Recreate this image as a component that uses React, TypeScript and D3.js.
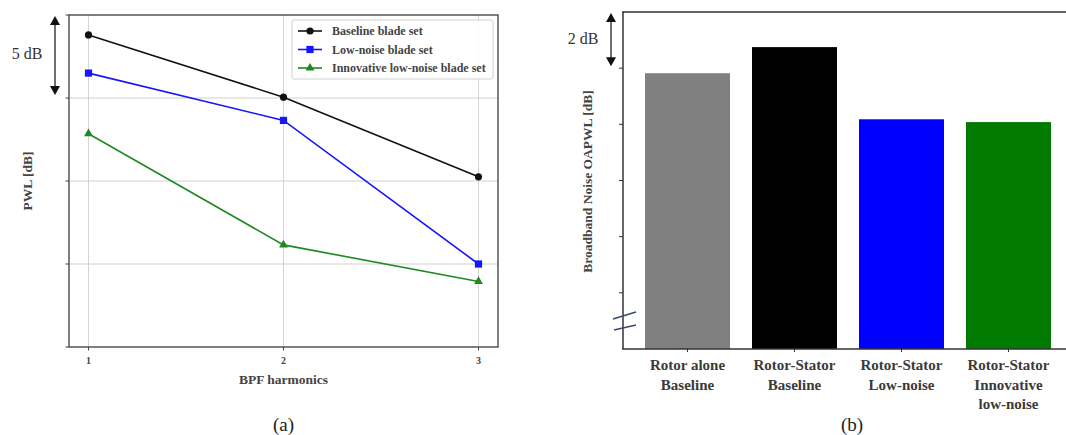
import React from "react";
import * as d3 from "d3";

// ---- Data (a) ----
const harmonics = [1, 2, 3];
const baseline = [18.8, 15.05, 10.25];
const lowNoise = [16.5, 13.65, 5.0];
const innovative = [12.85, 6.15, 3.95];
const yTicksA = [0, 5, 10, 15, 20];
const seriesNames = ["Baseline blade set", "Low-noise blade set", "Innovative low-noise blade set"];

// ---- Data (b) ----
const barLabels = [
  ["Rotor alone", "Baseline"],
  ["Rotor-Stator", "Baseline"],
  ["Rotor-Stator", "Low-noise"],
  ["Rotor-Stator", "Innovative", "low-noise"],
];
const barValues = [9.82, 10.75, 8.18, 8.08];
const barColors = ["#808080", "#000000", "#0000ff", "#007a00"];
const yTicksB = [0, 2, 4, 6, 8, 10, 12];

const serif = "'Liberation Serif', 'Times New Roman', serif";
const textCol = "#3a3a3a";

function Arrow({ x, y1, y2 }: { x: number; y1: number; y2: number }) {
  const h = 9, w = 5;
  return (
    <g>
      <line x1={x} x2={x} y1={y1 + h - 1} y2={y2 - h + 1} stroke="#222" strokeWidth={1.3} />
      <path d={`M${x},${y1} L${x - w},${y1 + h} L${x + w},${y1 + h} Z`} fill="#111" />
      <path d={`M${x},${y2} L${x - w},${y2 - h} L${x + w},${y2 - h} Z`} fill="#111" />
    </g>
  );
}

function Marker({ kind, x, y, color }: { kind: number; x: number; y: number; color: string }) {
  if (kind === 0) return <circle cx={x} cy={y} r={3.6} fill={color} />;
  if (kind === 1) return <rect x={x - 3.6} y={y - 3.6} width={7.2} height={7.2} fill={color} />;
  const s = d3.symbol().type(d3.symbolTriangle).size(34)();
  return <path d={s || ""} transform={`translate(${x},${y})`} fill={color} />;
}

export default function App() {
  // Panel (a)
  const xA = d3.scaleLinear().domain([0.9, 3.1]).range([69, 498]);
  const yA = d3.scaleLinear().domain([0, 20]).range([347, 15]);
  const series = [baseline, lowNoise, innovative];
  const colors = ["#111111", "#1515ff", "#1f8a1f"];
  const line = d3
    .line<number>()
    .x((_, i) => xA(harmonics[i]))
    .y((d) => yA(d));

  // Panel (b)
  const yB = d3.scaleLinear().domain([0, 12]).range([349, 12]);
  const xB = d3
    .scaleBand<number>()
    .domain(barValues.map((_, i) => i))
    .range([623, 1073])
    .paddingInner(0.2056)
    .paddingOuter(0.2056);

  return (
    <svg
      width={1066}
      height={435}
      style={{ position: "absolute", left: 0, top: 0, background: "#fff" }}
      fontFamily={serif}
    >
      <rect x={0} y={0} width={1066} height={435} fill="#fff" />
      {/* ===== Panel (a) ===== */}
      {/* grid */}
      {harmonics.map((h) => (
        <line key={"vg" + h} x1={xA(h)} x2={xA(h)} y1={yA(20)} y2={yA(0)} stroke="#d4d4d4" strokeWidth={1} />
      ))}
      {yTicksA.slice(1, 4).map((t) => (
        <line key={"hg" + t} x1={xA(0.9)} x2={xA(3.1)} y1={yA(t)} y2={yA(t)} stroke="#d0d0d0" strokeWidth={1} />
      ))}
      {/* ticks */}
      {yTicksA.map((t) => (
        <line key={"yt" + t} x1={xA(0.9) - 3.5} x2={xA(0.9)} y1={yA(t)} y2={yA(t)} stroke="#444" strokeWidth={1} />
      ))}
      {harmonics.map((h) => (
        <g key={"xt" + h}>
          <line x1={xA(h)} x2={xA(h)} y1={yA(0)} y2={yA(0) + 3.5} stroke="#444" strokeWidth={1} />
          <text x={xA(h)} y={yA(0) + 17} textAnchor="middle" fontSize={10} fill="#444" fontWeight="bold">
            {h}
          </text>
        </g>
      ))}
      {/* frame */}
      <rect
        x={xA(0.9)}
        y={yA(20)}
        width={xA(3.1) - xA(0.9)}
        height={yA(0) - yA(20)}
        fill="none"
        stroke="#4a4a4a"
        strokeWidth={1.4}
      />
      {/* lines */}
      {series.map((s, k) => (
        <g key={"s" + k}>
          <path d={line(s) || ""} fill="none" stroke={colors[k]} strokeWidth={1.6} />
          {s.map((v, i) => (
            <Marker key={i} kind={k} x={xA(harmonics[i])} y={yA(v)} color={colors[k]} />
          ))}
        </g>
      ))}
      {/* legend */}
      <rect x={292} y={20} width={201} height={59} rx={2} fill="#fff" fillOpacity={0.85} stroke="#d0d0d0" strokeWidth={1} />
      {seriesNames.map((n, k) => {
        const ly = 31 + k * 18.5;
        return (
          <g key={"lg" + k}>
            <line x1={298} x2={322} y1={ly} y2={ly} stroke={colors[k]} strokeWidth={1.6} />
            <Marker kind={k} x={310} y={ly} color={colors[k]} />
            <text x={332} y={ly + 4} fontSize={12} fontWeight="bold" fill="#444">
              {n}
            </text>
          </g>
        );
      })}
      {/* labels */}
      <text
        transform={`translate(32,${(yA(0) + yA(20)) / 2}) rotate(-90)`}
        textAnchor="middle"
        fontSize={13.5}
        fontWeight="bold"
        fill="#444"
      >
        PWL [dB]
      </text>
      <text x={xA(2)} y={384} textAnchor="middle" fontSize={13.5} fontWeight="bold" fill="#444">
        BPF harmonics
      </text>
      <text x={xA(2)} y={431} textAnchor="middle" fontSize={19} fill="#222">
        (a)
      </text>
      <Arrow x={55} y1={yA(20) + 1} y2={yA(15) - 3} />
      <text x={27} y={59} textAnchor="middle" fontSize={16} fill="#333">
        5 dB
      </text>

      {/* ===== Panel (b) ===== */}
      {barValues.map((v, i) => (
        <rect key={"b" + i} x={xB(i)} y={yB(v)} width={xB.bandwidth()} height={yB(0) - yB(v)} fill={barColors[i]} />
      ))}
      {/* spines */}
      <line x1={623} x2={623} y1={yB(12)} y2={yB(0)} stroke="#333" strokeWidth={1.5} />
      <line x1={622} x2={1066} y1={yB(0)} y2={yB(0)} stroke="#333" strokeWidth={1.5} />
      <line x1={622} x2={1066} y1={yB(12)} y2={yB(12)} stroke="#333" strokeWidth={1.5} />
      {yTicksB.slice(1, 6).map((t) => (
        <line key={"byt" + t} x1={619} x2={623} y1={yB(t)} y2={yB(t)} stroke="#333" strokeWidth={1} />
      ))}
      {barValues.map((_, i) => (
        <line
          key={"bxt" + i}
          x1={xB(i)! + xB.bandwidth() / 2}
          x2={xB(i)! + xB.bandwidth() / 2}
          y1={yB(0)}
          y2={yB(0) + 3}
          stroke="#333"
          strokeWidth={1}
        />
      ))}
      {/* axis break */}
      <line x1={613} x2={636} y1={319} y2={312} stroke="#3a4a6a" strokeWidth={1.6} />
      <line x1={614} x2={636} y1={330} y2={325} stroke="#3a4a6a" strokeWidth={1.6} />
      {/* category labels */}
      {barLabels.map((lines, i) => (
        <text
          key={"bl" + i}
          x={xB(i)! + xB.bandwidth() / 2}
          textAnchor="middle"
          fontSize={15}
          fontWeight="bold"
          fill={textCol}
        >
          {lines.map((l, j) => (
            <tspan key={j} x={xB(i)! + xB.bandwidth() / 2} y={370 + j * 19.5}>
              {l}
            </tspan>
          ))}
        </text>
      ))}
      <text
        transform={`translate(592,${(yB(0) + yB(12)) / 2 + 1}) rotate(-90)`}
        textAnchor="middle"
        fontSize={13.5}
        fontWeight="bold"
        fill="#444"
      >
        Broadband Noise OAPWL [dB]
      </text>
      <text x={852} y={431} textAnchor="middle" fontSize={19} fill="#222">
        (b)
      </text>
      <Arrow x={611} y1={yB(12) + 1} y2={yB(10) - 2} />
      <text x={583} y={44} textAnchor="middle" fontSize={16} fill="#333">
        2 dB
      </text>
    </svg>
  );
}
